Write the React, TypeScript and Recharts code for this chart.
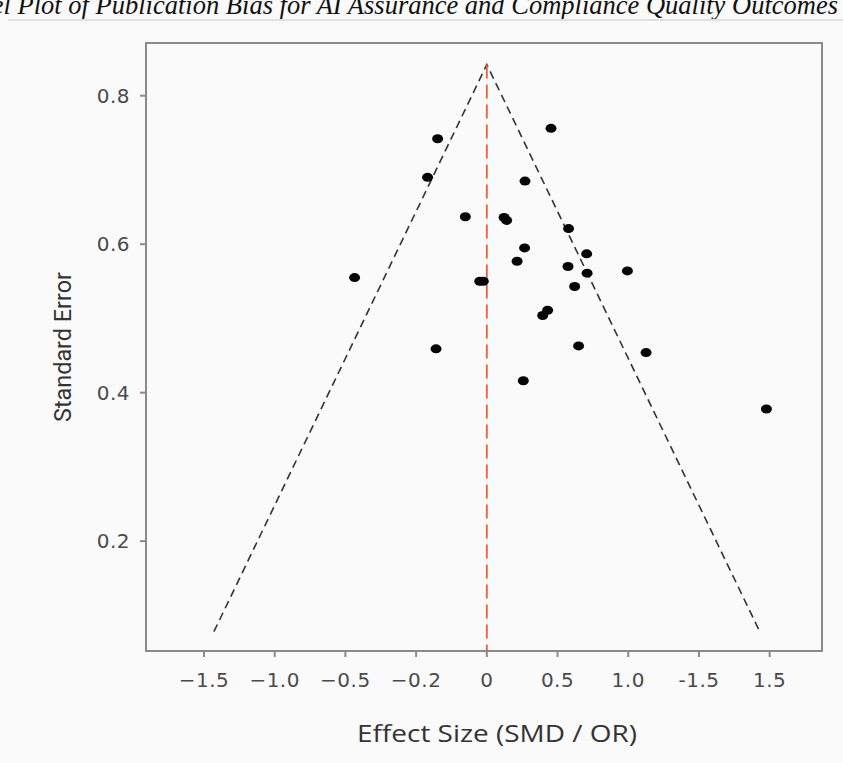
import React from 'react'
import {
  ComposedChart,
  Scatter,
  XAxis,
  YAxis,
  ReferenceArea,
} from 'recharts'

// effect size (plot units) and standard error per study
const effectSizes = [
  -0.348, 0.454, -0.419, 0.27, -0.152, 0.122, 0.14, 0.578, 0.267, 0.706, 0.214,
  0.574, 0.709, 0.994, -0.935, -0.05, -0.025, 0.621, 0.395, 0.43, -0.359, 0.649,
  1.126, 0.258, 1.977,
]
const standardErrors = [
  0.742, 0.756, 0.69, 0.685, 0.637, 0.636, 0.632, 0.621, 0.595, 0.587, 0.577,
  0.57, 0.561, 0.564, 0.555, 0.55, 0.55, 0.543, 0.504, 0.511, 0.459, 0.463,
  0.454, 0.416, 0.378,
]

// funnel: left foot, apex, right foot
const funnelX = [-1.93, 0, 1.93]
const funnelSE = [0.078, 0.842, 0.078]
// pooled estimate line
const pooledX = [0, 0]
const pooledSE = [0.842, 0.052]

const xTicks = [-2, -1.5, -1, -0.5, 0, 0.5, 1, 1.5, 2]
const xTickLabels = ['\u22121.5', '\u22121.0', '\u22120.5', '\u22120.2', '0', '0.5', '1.0', '-1.5', '1.5']
const yTicks = [0.2, 0.4, 0.6, 0.8]
const xDomain = [-2.41, 2.37]
const yDomain = [0.052, 0.871]

const studies = effectSizes.map((x, i) => ({ x, y: standardErrors[i] }))
const funnel = funnelX.map((x, i) => ({ x, y: funnelSE[i] }))
const pooled = pooledX.map((x, i) => ({ x, y: pooledSE[i] }))

const axisColor = '#8a8a8a'
const tickStyle = {
  fontSize: 20,
  fill: '#4a4a4a',
  fontFamily: '"DejaVu Sans", sans-serif',
  letterSpacing: 0.5,
}

const Dot = (p: any) => <ellipse cx={p.cx} cy={p.cy} rx={5.5} ry={4.5} fill="#050505" />
const NoDot = () => <g />

export default function App() {
  return (
    <div style={{ position: 'absolute', left: 0, top: 0, width: 843, height: 763, background: '#fbfafb', overflow: 'hidden' }}>
      <div
        style={{
          position: 'absolute',
          right: 5,
          top: -8,
          lineHeight: '26px',
          fontFamily: '"Liberation Serif", serif',
          fontStyle: 'italic',
          fontSize: 26.5,
          color: '#111',
          whiteSpace: 'nowrap',
        }}
      >
        Funnel Plot of Publication Bias for AI Assurance and Compliance Quality Outcomes
      </div>
      <div style={{ position: 'absolute', left: 8, right: 0, top: 19, height: 2, background: '#e2e0e2' }} />
      <ComposedChart width={843} height={763} margin={{ top: 43, right: 21, bottom: 12, left: 6 }}>
        <XAxis
          type="number"
          dataKey="x"
          domain={xDomain}
          allowDataOverflow
          ticks={xTicks}
          tickFormatter={(v: number) => xTickLabels[xTicks.indexOf(v)] ?? ''}
          tick={tickStyle}
          tickSize={6}
          tickMargin={16}
          stroke={axisColor}
          strokeWidth={2}
          height={100}
          label={{
            content: () => (
              <text
                x={497}
                y={742}
                textAnchor="middle"
                fontSize={23}
                textLength={280}
                lengthAdjust="spacingAndGlyphs"
                fill="#333"
                fontFamily='"Open Sans", "Noto Sans", sans-serif'
              >
                Effect Size (SMD / OR)
              </text>
            ),
          }}
        />
        <YAxis
          type="number"
          dataKey="y"
          domain={yDomain}
          allowDataOverflow
          ticks={yTicks}
          tickFormatter={(v: number) => v.toFixed(1)}
          tick={tickStyle}
          tickSize={6}
          tickMargin={10}
          stroke={axisColor}
          strokeWidth={2}
          width={140}
          label={{
            content: (props: any) => {
              const vb = props.viewBox
              const cx = 63
              const cy = vb.y + vb.height / 2
              return (
                <text
                  x={cx}
                  y={cy}
                  transform={`rotate(-90 ${cx} ${cy})`}
                  textAnchor="middle"
                  dominantBaseline="central"
                  fontSize={23}
                  textLength={150}
                  lengthAdjust="spacingAndGlyphs"
                  fill="#333"
                  fontFamily='Roboto, "Noto Sans", sans-serif'
                >
                  Standard Error
                </text>
              )
            },
          }}
        />
        <ReferenceArea
          x1={xDomain[0]}
          x2={xDomain[1]}
          y1={yDomain[0]}
          y2={yDomain[1]}
          fill="none"
          stroke={axisColor}
          strokeWidth={2}
          ifOverflow="visible"
        />
        <Scatter
          data={funnel}
          fill="#333"
          shape={NoDot}
          line={{ stroke: '#333', strokeWidth: 1.6, strokeDasharray: '8 5' }}
          isAnimationActive={false}
        />
        <Scatter
          data={pooled}
          fill="#e5603b"
          shape={NoDot}
          line={{ stroke: '#e5603b', strokeWidth: 1.8, strokeDasharray: '14 6' }}
          isAnimationActive={false}
        />
        <Scatter data={studies} fill="#050505" shape={Dot} isAnimationActive={false} />
      </ComposedChart>
    </div>
  )
}
